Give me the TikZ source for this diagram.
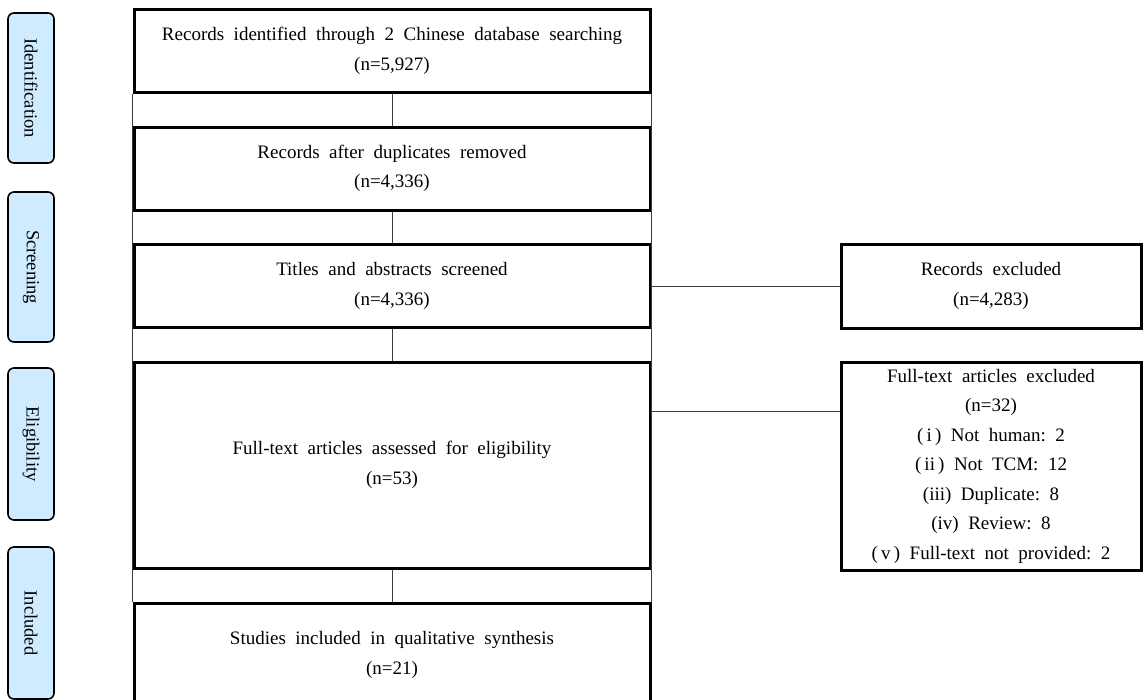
\documentclass[tikz,border=0pt]{standalone}
\usepackage{fontspec}
\setmainfont{Liberation Serif}
\usetikzlibrary{positioning,calc}
\definecolor{stagefill}{RGB}{206,235,255}
\definecolor{thinline}{RGB}{60,60,60}
\begin{document}
\begin{tikzpicture}[x=1pt,y=-1pt,
  mainbox/.style={draw=black,line width=3pt,fill=white,minimum width=516pt,align=center,inner sep=0pt,
    font=\fontsize{19}{29.5}\selectfont},
  exbox/.style={draw=black,line width=3pt,fill=white,minimum width=300pt,align=center,inner sep=0pt,
    font=\fontsize{19}{29.5}\selectfont},
  stage/.style={draw=black,line width=1.6pt,fill=stagefill,rounded corners=6pt,rotate=-90,
    minimum height=46pt,inner sep=0pt,font=\fontsize{18.5}{20}\selectfont},
  thin/.style={draw=thinline,line width=0.9pt}]
\useasboundingbox (0,0) rectangle (1143,699);
% stage labels
\node[stage,minimum width=150pt] (s1) at (31,88) {Identification};
\node[stage,minimum width=150pt] (s2) at (31,267) {Screening};
\node[stage,minimum width=152pt] (s3) at (31,444) {Eligibility};
\node[stage,minimum width=152pt] (s4) at (31,623) {Included};
% main boxes
\node[mainbox,minimum height=83pt] (b1) at (392,51) {Records\ \ identified\ \ through\ \ 2\ \ Chinese\ \ database\ \ searching\\(n=5,927)};
\node[mainbox,minimum height=83pt] (b2) at (392,168.5) {Records\ \ after\ \ duplicates\ \ removed\\(n=4,336)};
\node[mainbox,minimum height=83pt] (b3) at (392,286) {Titles\ \ and\ \ abstracts\ \ screened\\(n=4,336)};
\node[mainbox,minimum height=206pt] (b4) at (392,465) {Full-text\ \ articles\ \ assessed\ \ for\ \ eligibility\\(n=53)};
\node[mainbox,minimum height=104pt] (b5) at (392,655) {Studies\ \ included\ \ in\ \ qualitative\ \ synthesis\\(n=21)};
% exclusion boxes
\node[exbox,minimum height=84pt] (e1) at (991,286) {Records\ \ excluded\\(n=4,283)};
\node[exbox,minimum height=208pt] (e2) at (991,466) {Full-text\ \ articles\ \ excluded\\(n=32)\\(\,i\,)\ \ Not\ \ human:\ \ 2\\(\,ii\,)\ \ Not\ \ TCM:\ \ 12\\(iii)\ \ Duplicate:\ \ 8\\(iv)\ \ Review:\ \ 8\\(\,v\,)\ \ Full-text\ \ not\ \ provided:\ \ 2};
% thin column sides in the gaps
\draw[thin] (b1.south west) -- (b5.north west);
\draw[thin] (b1.south east) -- (b5.north east);
% vertical connectors
\draw[thin] (b1.south) -- (b2.north);
\draw[thin] (b2.south) -- (b3.north);
\draw[thin] (b3.south) -- (b4.north);
\draw[thin] (b4.south) -- (b5.north);
% horizontal connectors
\draw[thin] (b3.east) -- (e1.west);
\coordinate (h2) at (0,411);
\draw[thin] (b4.east |- h2) -- (e2.west |- h2);
\end{tikzpicture}
\end{document}
